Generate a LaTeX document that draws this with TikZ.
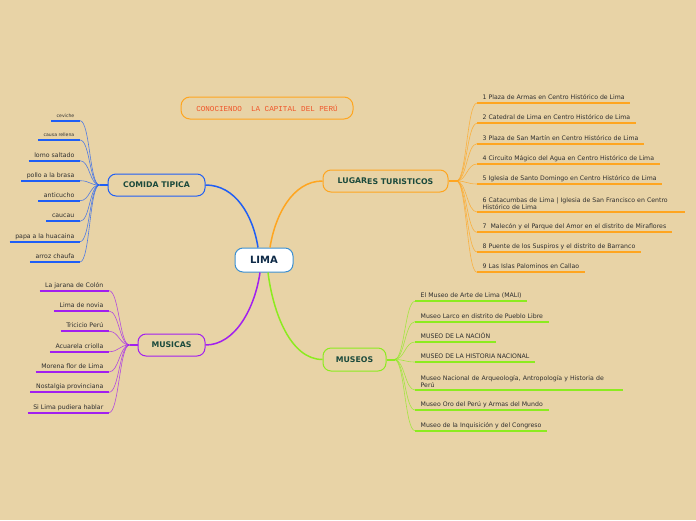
\documentclass[tikz,border=0pt]{standalone}
\usepackage{fontspec}
\setmainfont{DejaVu Sans}
\newfontfamily\monofont{Liberation Mono}
\definecolor{bgcol}{HTML}{E8D3A6}
\definecolor{cblue}{HTML}{1F5EF5}
\definecolor{corange}{HTML}{FFA51F}
\definecolor{cpurple}{HTML}{A21FEF}
\definecolor{cgreen}{HTML}{8CEB1F}
\definecolor{limablue}{HTML}{3C8FD0}
\definecolor{branchtext}{HTML}{1B4A3C}
\definecolor{limatext}{HTML}{0E2A47}
\definecolor{leaftext}{HTML}{2E2E2E}
\definecolor{titletext}{HTML}{F0562A}
\tikzset{
  branch/.style={draw=#1, line width=1pt, rounded corners=8pt, minimum height=22pt,
    inner sep=0pt, text=branchtext, font=\fontsize{7.8}{9}\selectfont\bfseries},
  leafbase/.style={inner xsep=5.5pt, inner ysep=2pt, text=leaftext, font=\fontsize{6.2}{7}\selectfont},
  leafL/.style={leafbase, anchor=south east, text height=1.5ex, text depth=0.25ex,
    append after command={(\tikzlastnode.south west) edge[draw=#1, line width=2pt] (\tikzlastnode.south east)}},
  leafR/.style={leafbase, anchor=south west, text height=1.5ex, text depth=0.25ex,
    append after command={(\tikzlastnode.south west) edge[draw=#1, line width=2pt] (\tikzlastnode.south east)}},
  leafwide/.style={leafbase, anchor=south west, text width=197pt, align=left,
    append after command={(\tikzlastnode.south west) edge[draw=#1, line width=2pt] (\tikzlastnode.south east)}},
  stub/.style={draw=#1, line width=2pt},
  twig/.style={draw=#1, line width=0.6pt, opacity=0.75},
  trunk/.style={draw=#1, line width=1.5pt}
}
\begin{document}
\begin{tikzpicture}[x=1pt, y=-1pt]
\fill[bgcol] (0,0) rectangle (696,520);
\useasboundingbox (0,0) rectangle (696,520);

\node[draw=corange, line width=1pt, rounded corners=9pt, minimum width=172pt, minimum height=22pt,
  inner sep=0pt, text=titletext, font=\monofont\fontsize{7.6}{9}\selectfont] (titulo) at (267,108) {CONOCIENDO\ \ LA CAPITAL DEL PERÚ};

\node[draw=limablue, fill=white, line width=1pt, rounded corners=8pt, minimum width=58pt, minimum height=24pt,
  inner sep=0pt, text=limatext, font=\fontsize{10}{12}\selectfont\bfseries] (lima) at (264,260) {LIMA};

\node[branch=cblue, minimum width=97pt] (comida) at (156.5,185) {COMIDA TIPICA};
\node[branch=cpurple, minimum width=67pt] (musicas) at (171.5,345) {MUSICAS};
\node[branch=corange, minimum width=125pt] (lugares) at (385.5,181) {\raisebox{0.8pt}{LUGAR}ES TURISTICOS};
\node[branch=cgreen, minimum width=63pt, minimum height=23pt] (museos) at (354.5,359.5) {MUSEOS};

\draw[trunk=cblue] (comida.east) .. controls +(30,0) and +(-5,-32) .. ([xshift=-6pt]lima.north);
\draw[trunk=corange] ([xshift=6pt]lima.north) .. controls +(5,-32) and +(-30,0) .. (lugares.west);
\draw[trunk=cpurple] ([xshift=-4pt]lima.south) .. controls +(-5,35) and +(30,0) .. (musicas.east);
\draw[trunk=cgreen] ([xshift=4pt]lima.south) .. controls +(5,40) and +(-32,0) .. (museos.west);

\coordinate (cstub) at ([xshift=-8pt]comida.west);
\coordinate (mstub) at ([xshift=-8pt]musicas.west);
\coordinate (lstub) at ([xshift=8pt]lugares.east);
\coordinate (ustub) at ([xshift=8pt]museos.east);
\draw[stub=cblue] (comida.west) -- (cstub);
\draw[stub=cpurple] (musicas.west) -- (mstub);
\draw[stub=corange] (lugares.east) -- (lstub);
\draw[stub=cgreen] (museos.east) -- (ustub);

\node[leafL=cblue, font=\fontsize{4.6}{5.5}\selectfont] (c1) at (80,120.7) {ceviche};
\node[leafL=cblue, font=\fontsize{4.6}{5.5}\selectfont] (c2) at (80,140) {causa rellena};
\node[leafL=cblue] (c3) at (80,160.7) {lomo saltado};
\node[leafL=cblue] (c4) at (80,180.7) {pollo a la brasa};
\node[leafL=cblue] (c5) at (80,200.7) {anticucho};
\node[leafL=cblue] (c6) at (80,221.3) {caucau};
\node[leafL=cblue] (c7) at (80,241.7) {papa a la huacaina};
\node[leafL=cblue] (c8) at (80,262) {arroz chaufa};
\draw[twig=cblue] (cstub) .. controls +(-10,0) and +(10,0) .. (c1.south east);
\draw[twig=cblue] (cstub) .. controls +(-10,0) and +(10,0) .. (c2.south east);
\draw[twig=cblue] (cstub) .. controls +(-10,0) and +(10,0) .. (c3.south east);
\draw[twig=cblue] (cstub) .. controls +(-10,0) and +(10,0) .. (c4.south east);
\draw[twig=cblue] (cstub) .. controls +(-10,0) and +(10,0) .. (c5.south east);
\draw[twig=cblue] (cstub) .. controls +(-10,0) and +(10,0) .. (c6.south east);
\draw[twig=cblue] (cstub) .. controls +(-10,0) and +(10,0) .. (c7.south east);
\draw[twig=cblue] (cstub) .. controls +(-10,0) and +(10,0) .. (c8.south east);

\node[leafL=cpurple] (m1) at (109,290.7) {La jarana de Colón};
\node[leafL=cpurple] (m2) at (109,311) {Lima de novia};
\node[leafL=cpurple] (m3) at (109,331.3) {Tricicio Perú};
\node[leafL=cpurple] (m4) at (109,351.7) {Acuarela criolla};
\node[leafL=cpurple] (m5) at (109,372) {Morena flor de Lima};
\node[leafL=cpurple] (m6) at (109,392.3) {Nostalgia provinciana};
\node[leafL=cpurple] (m7) at (109,412.7) {Si Lima pudiera hablar};
\draw[twig=cpurple] (mstub) .. controls +(-10,0) and +(10,0) .. (m1.south east);
\draw[twig=cpurple] (mstub) .. controls +(-10,0) and +(10,0) .. (m2.south east);
\draw[twig=cpurple] (mstub) .. controls +(-10,0) and +(10,0) .. (m3.south east);
\draw[twig=cpurple] (mstub) .. controls +(-10,0) and +(10,0) .. (m4.south east);
\draw[twig=cpurple] (mstub) .. controls +(-10,0) and +(10,0) .. (m5.south east);
\draw[twig=cpurple] (mstub) .. controls +(-10,0) and +(10,0) .. (m6.south east);
\draw[twig=cpurple] (mstub) .. controls +(-10,0) and +(10,0) .. (m7.south east);

\node[leafR=corange] (l1) at (477,103) {1 Plaza de Armas en Centro Histórico de Lima};
\node[leafR=corange] (l2) at (477,123.3) {2 Catedral de Lima en Centro Histórico de Lima};
\node[leafR=corange] (l3) at (477,143.7) {3 Plaza de San Martín en Centro Histórico de Lima};
\node[leafR=corange] (l4) at (477,164) {4 Circuito Mágico del Agua en Centro Histórico de Lima};
\node[leafR=corange] (l5) at (477,184) {5 Iglesia de Santo Domingo en Centro Histórico de Lima};
\node[leafwide=corange] (l6) at (477,212) {6 Catacumbas de Lima | Iglesia de San Francisco en Centro\\Histórico de Lima};
\node[leafR=corange] (l7) at (477,232.3) {7\ \ Malecón y el Parque del Amor en el distrito de Miraflores};
\node[leafR=corange] (l8) at (477,252) {8 Puente de los Suspiros y el distrito de Barranco};
\node[leafR=corange] (l9) at (477,272.3) {9 Las Islas Palominos en Callao};
\draw[twig=corange] (lstub) .. controls +(10,0) and +(-10,0) .. (l1.south west);
\draw[twig=corange] (lstub) .. controls +(10,0) and +(-10,0) .. (l2.south west);
\draw[twig=corange] (lstub) .. controls +(10,0) and +(-10,0) .. (l3.south west);
\draw[twig=corange] (lstub) .. controls +(10,0) and +(-10,0) .. (l4.south west);
\draw[twig=corange] (lstub) .. controls +(10,0) and +(-10,0) .. (l5.south west);
\draw[twig=corange] (lstub) .. controls +(10,0) and +(-10,0) .. (l6.south west);
\draw[twig=corange] (lstub) .. controls +(10,0) and +(-10,0) .. (l7.south west);
\draw[twig=corange] (lstub) .. controls +(10,0) and +(-10,0) .. (l8.south west);
\draw[twig=corange] (lstub) .. controls +(10,0) and +(-10,0) .. (l9.south west);

\node[leafR=cgreen] (u1) at (415,301.3) {El Museo de Arte de Lima (MALI)};
\node[leafR=cgreen] (u2) at (415,321.7) {Museo Larco en distrito de Pueblo Libre};
\node[leafR=cgreen] (u3) at (415,342) {MUSEO DE LA NACIÓN};
\node[leafR=cgreen] (u4) at (415,362) {MUSEO DE LA HISTORIA NACIONAL};
\node[leafwide=cgreen] (u5) at (415,390) {Museo Nacional de Arqueología, Antropología y Historia de\\Perú};
\node[leafR=cgreen] (u6) at (415,410) {Museo Oro del Perú y Armas del Mundo};
\node[leafR=cgreen] (u7) at (415,430.7) {Museo de la Inquisición y del Congreso};
\draw[twig=cgreen] (ustub) .. controls +(10,0) and +(-10,0) .. (u1.south west);
\draw[twig=cgreen] (ustub) .. controls +(10,0) and +(-10,0) .. (u2.south west);
\draw[twig=cgreen] (ustub) .. controls +(10,0) and +(-10,0) .. (u3.south west);
\draw[twig=cgreen] (ustub) .. controls +(10,0) and +(-10,0) .. (u4.south west);
\draw[twig=cgreen] (ustub) .. controls +(10,0) and +(-10,0) .. (u5.south west);
\draw[twig=cgreen] (ustub) .. controls +(10,0) and +(-10,0) .. (u6.south west);
\draw[twig=cgreen] (ustub) .. controls +(10,0) and +(-10,0) .. (u7.south west);
\end{tikzpicture}
\end{document}
